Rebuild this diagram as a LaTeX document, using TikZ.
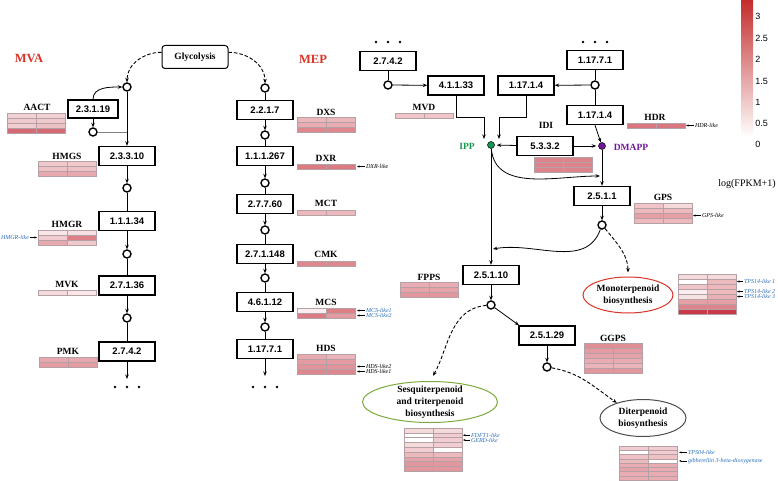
\documentclass[tikz,border=0pt]{standalone}
\usepackage{fontspec}
\setmainfont{Liberation Serif}
\setsansfont{Liberation Sans}
\usepackage{tikz}
\usetikzlibrary{arrows.meta,shapes.geometric}
\definecolor{hot}{RGB}{198,48,62}
\definecolor{barred}{RGB}{196,44,44}
\definecolor{ippgreen}{RGB}{22,150,82}
\definecolor{dmapurple}{RGB}{112,22,150}
\definecolor{tagblue}{RGB}{40,110,190}
\definecolor{pwred}{RGB}{218,52,40}
\definecolor{sesqgreen}{RGB}{124,170,60}
\definecolor{cellgray}{RGB}{180,160,165}

\tikzset{
  ec/.style={draw, line width=1.4pt, fill=white, minimum width=56pt, minimum height=19pt,
    inner sep=0pt, font=\sffamily\bfseries\fontsize{9.5}{11}\selectfont},
  met/.style={circle, draw, line width=1.4pt, fill=white, minimum size=8pt, inner sep=0pt},
  gene/.style={font=\bfseries\fontsize{9.5}{11}\selectfont, inner sep=0pt},
  title/.style={font=\bfseries\fontsize{12.5}{14}\selectfont, text=pwred},
  pw/.style={ellipse, draw, line width=1pt, inner sep=0pt},
  pwtext/.style={font=\bfseries\fontsize{9.5}{12}\selectfont, align=center},
  tag/.style={font=\itshape\fontsize{6}{6}\selectfont, anchor=west, inner sep=0pt, outer sep=1pt},
  tagarr/.style={{Stealth[length=2.5pt,width=2pt]}-, line width=0.4pt},
  flowd/.style={->, dash pattern=on 3.5pt off 2pt, line width=0.9pt},
  cellline/.style={draw=cellgray, line width=0.5pt},
}

% heat map: [row height]{x left}{y top}{col1/col2 shades}
\newcommand{\heatmap}[4][5]{%
  \foreach \ca/\cb [count=\rw] in {#4}{
    \filldraw[cellline, fill=hot!\ca!white] (#2,{#3-\rw*#1}) rectangle ++(29,#1);
    \filldraw[cellline, fill=hot!\cb!white] ({#2+29},{#3-\rw*#1}) rectangle ++(29,#1);
  }}

\begin{document}
\begin{tikzpicture}[x=1pt, y=1pt, line width=0.8pt, >={Stealth[length=4.5pt,width=3.5pt]}]
  \useasboundingbox (0,0) rectangle (778,480);

  \node[title] (mvalab) at (29,422) {MVA};
  \node[title] (meplab) at (313,421) {MEP};
  \node[draw, rounded corners=3pt, line width=1pt, minimum width=66pt, minimum height=23pt,
    font=\bfseries\fontsize{9.5}{11}\selectfont] (glyc) at (195,423) {Glycolysis};

  % MVA pathway
  \node[met] (m1) at (127,393) {};
  \node[ec, minimum width=50pt, minimum height=18pt] (aact) at (93,371) {2.3.1.19};
  \node[met] (m2) at (93,348) {};
  \node[ec] (hmgs) at (127,324) {2.3.3.10};
  \node[met] (m3) at (127,292) {};
  \node[ec] (hmgr) at (127,259) {1.1.1.34};
  \node[met] (m4) at (127,226) {};
  \node[ec] (mvk) at (127,194.5) {2.7.1.36};
  \node[met] (m5) at (127,162) {};
  \node[ec] (pmk) at (127,128.5) {2.7.4.2};
  \coordinate (mvaend) at (127,101);
  \foreach \x in {115,127,139}
    \fill (\x,93) circle (1.4pt);

  \draw[flowd] (glyc.172) to[out=180,in=90] (m1.north);
  \draw[->] (aact.north) to[out=90,in=180] (m1.west);
  \draw[->] (aact) -- (m2);
  \draw[gray] (m2.east) -- (m2 -| m1);
  \draw[->] (m1) -- (hmgs);
  \draw[->] (hmgs) -- (m3);
  \draw (m3) -- (hmgr);
  \draw[->] (hmgr) -- (m4);
  \draw (m4) -- (mvk);
  \draw[->] (mvk) -- (m5);
  \draw (m5) -- (pmk);
  \draw[->] (pmk) -- (mvaend);

  \node[gene] (aactlab) at (37,373) {AACT};
  \heatmap{7}{367}{22/22, 26/26, 24/30, 72/72}
  \node[gene] (hmgslab) at (67,324) {HMGS};
  \heatmap{38}{319}{26/26, 30/30, 42/42}
  \node[gene] (hmgrlab) at (67,256) {HMGR};
  \heatmap{38}{250}{12/15, 24/62, 42/26}
  \draw[tagarr] (37,242.5) -- ++(-7,0) node[tag, anchor=east, text=tagblue] {HMGR-like};
  \node[gene] (mvklab) at (67,196) {MVK};
  \heatmap{38}{190}{18/12}
  \node[gene] (pmklab) at (68,129) {PMK};
  \heatmap{39}{123}{42/42, 48/48}

  % MEP pathway
  \node[met] (p1) at (265,392) {};
  \node[ec] (dxs) at (265,370) {2.2.1.7};
  \node[met] (p2) at (265,345) {};
  \node[ec] (dxr) at (265,324) {1.1.1.267};
  \node[met] (p3) at (265,297) {};
  \node[ec] (mct) at (265,276) {2.7.7.60};
  \node[met] (p4) at (265,250) {};
  \node[ec] (cmk) at (265,226) {2.7.1.148};
  \node[met] (p5) at (265,202) {};
  \node[ec] (mcs) at (265,178) {4.6.1.12};
  \node[met] (p6) at (265,153) {};
  \node[ec] (hds) at (265,131) {1.17.7.1};
  \coordinate (mepend) at (265,104);
  \foreach \x in {253,265,277}
    \fill (\x,93) circle (1.4pt);

  \draw[flowd] (glyc.8) to[out=0,in=90] (p1.north);
  \draw (p1) -- (dxs);
  \draw[->] (dxs) -- (p2);
  \draw (p2) -- (dxr);
  \draw[->] (dxr) -- (p3);
  \draw (p3) -- (mct);
  \draw[->] (mct) -- (p4);
  \draw (p4) -- (cmk);
  \draw[->] (cmk) -- (p5);
  \draw (p5) -- (mcs);
  \draw[->] (mcs) -- (p6);
  \draw (p6) -- (hds);
  \draw[->] (hds) -- (mepend);

  \node[gene] (dxslab) at (326,368) {DXS};
  \heatmap{297}{363}{35/35, 40/40, 58/58}
  \node[gene] (dxrlab) at (326,322) {DXR};
  \heatmap{297}{316}{64/64}
  \draw[tagarr] (357,313.5) -- ++(8,0) node[tag] {DXR-like};
  \node[gene] (mctlab) at (326,277) {MCT};
  \heatmap{297}{270}{34/34}
  \node[gene] (cmklab) at (326,226) {CMK};
  \heatmap{297}{219}{58/58}
  \node[gene] (mcslab) at (326,178) {MCS};
  \heatmap{297}{172}{8/62, 64/48}
  \draw[tagarr] (357,169.5) -- ++(8,0) node[tag, text=tagblue] {MCS-like1};
  \draw[tagarr] (357,164.5) -- ++(8,0) node[tag, text=tagblue] {MCS-like2};
  \node[gene] (hdslab) at (326,132) {HDS};
  \heatmap{297}{126}{42/36, 48/48, 52/52, 58/58}
  \draw[tagarr] (357,113.5) -- ++(8,0) node[tag] {HDS-like2};
  \draw[tagarr] (357,108.5) -- ++(8,0) node[tag] {HDS-like1};

  % IPP / DMAPP and downstream
  \foreach \x in {376,388,400}
    \fill (\x,438) circle (1.4pt);
  \node[ec] (pmk2) at (388,419) {2.7.4.2};
  \node[met] (q1) at (388,395) {};
  \node[ec] (mvd) at (456,394.5) {4.1.1.33};
  \node[gene] (mvdlab) at (424,373) {MVD};
  \heatmap{395}{367}{28/28}
  \node[ec] (hdrl) at (526,394.5) {1.17.1.4};
  \foreach \x in {583,595,607}
    \fill (\x,438) circle (1.4pt);
  \node[ec] (hds2) at (595,420) {1.17.7.1};
  \node[met] (q2) at (595,395) {};
  \node[ec] (hdrr) at (595,365) {1.17.1.4};
  \node[gene] (hdrlab) at (655,363) {HDR};
  \heatmap{627}{357}{66/66}
  \draw[tagarr] (686,354.5) -- ++(8,0) node[tag] {HDR-like};

  \node[circle, draw, fill=ippgreen, minimum size=7pt, inner sep=0pt, line width=0.5pt] (ipp) at (491,335) {};
  \node[gene, text=ippgreen] (ipplab) at (467,334) {IPP};
  \node[circle, draw, fill=dmapurple, minimum size=7pt, inner sep=0pt, line width=0.5pt] (dmapp) at (602,334) {};
  \node[gene, text=dmapurple] (dmapplab) at (631,333) {DMAPP};
  \node[gene] (idilab) at (546,355) {IDI};
  \node[ec] (idi) at (545,334) {5.3.3.2};
  \heatmap{534}{323}{60/60, 60/60, 60/60}

  \draw (pmk2) -- (q1);
  \draw[->] (q1) -- (mvd);
  \draw[->] (mvd.south) -- ++(0,-22) -| ([shift={(-7pt,6pt)}]ipp.center);
  \draw[->] (hdrl.south) -- ++(0,-22) -| ([shift={(8pt,6pt)}]ipp.center);
  \draw (hds2) -- (q2);
  \draw[->] (q2) -- (hdrl);
  \draw (q2) -- (hdrr);
  \draw[->] (hdrr.south) -- (dmapp);
  \draw[->, shorten >=2pt] (idi) -- (ipp);
  \draw[->, shorten >=2pt] (idi) -- (dmapp);

  \node[ec] (gps) at (602,284) {2.5.1.1};
  \node[gene] (gpslab) at (663,283) {GPS};
  \heatmap{634}{277}{28/18, 34/34, 46/46, 34/34}
  \draw[tagarr] (693,264.5) -- ++(8,0) node[tag] {GPS-like};
  \node[met] (q3) at (602,255) {};
  \coordinate (j1) at (600,304);
  \coordinate (j2) at (493,231);
  \draw[->] (ipp) to[out=-85,in=180] (j1);
  \draw[->] (dmapp) -- (gps);
  \draw[->] (gps) -- (q3);
  \draw[->] (q3) to[out=-110,in=10] (j2);

  \node[pw, draw=pwred, minimum width=90pt, minimum height=36pt] (mono) at (628,185) {};
  \node[pwtext] (monotext) at (mono) {Monoterpenoid\\biosynthesis};
  \heatmap{678}{206}{18/18, 0/34, 28/34, 8/34, 14/38, 46/46, 60/60, 95/95}
  \draw[tagarr] (737,198.5) -- ++(6,0) node[tag, text=tagblue] {TPS14-like 1};
  \draw[tagarr] (737,188.5) -- ++(6,0) node[tag, text=tagblue] {TPS14-like 2};
  \draw[tagarr] (737,183.5) -- ++(6,0) node[tag, text=tagblue] {TPS14-like 3};
  \draw[flowd, shorten >=4pt] (q3) to[out=-50,in=90] (mono.north);

  \node[ec] (fpps) at (491,205) {2.5.1.10};
  \node[gene] (fppslab) at (429,203) {FPPS};
  \heatmap{400}{198}{40/40, 44/44, 50/50}
  \node[met] (q4) at (491,175) {};
  \node[ec] (ggps) at (547,144.5) {2.5.1.29};
  \node[gene] (ggpslab) at (613,142) {GGPS};
  \heatmap{584}{137}{54/54, 48/48, 45/45, 40/40, 36/36, 50/50}
  \node[met] (q5) at (547,113) {};

  \draw[->] (ipp) -- (fpps);
  \draw[->] (fpps) -- (q4);
  \draw[->] (q4) -- (ggps.160);
  \draw[->] (ggps) -- (q5);

  \node[pw, draw=sesqgreen, minimum width=135pt, minimum height=41pt] (sesq) at (430,78) {};
  \node[pwtext] (sesqtext) at (sesq) {Sesquiterpenoid\\and triterpenoid\\biosynthesis};
  \heatmap[4.8]{404}{52}{18/18, 0/24, 0/24, 18/24, 24/0, 34/34, 45/45, 50/50, 50/50}
  \draw[tagarr] (463,44.8) -- ++(7,0) node[tag, text=tagblue] {FDFT1-like};
  \draw[tagarr] (463,40) -- ++(7,0) node[tag, text=tagblue] {GERD-like};
  \draw[flowd, shorten >=6pt] (q4) to[out=185,in=60] (sesq.north);

  \node[pw, draw=black!70, minimum width=86pt, minimum height=37pt] (diter) at (643,62) {};
  \node[pwtext] (ditertext) at (diter) {Diterpenoid\\biosynthesis};
  \heatmap[4.25]{619}{34}{24/24, 0/24, 30/30, 34/0, 40/40, 45/40, 40/40, 40/40}
  \draw[tagarr] (679,27.6) -- ++(8,0) node[tag, text=tagblue] {TPS04-like};
  \draw[tagarr] (679,19.1) -- ++(8,0) node[tag, text=tagblue] {gibberellin 3-beta-dioxygenase};
  \draw[flowd] (q5) to[out=-10,in=145] (diter.150);

  % colour key
  \shade[top color=barred, bottom color=white] (741,343) rectangle (753,480);
  \foreach \v/\yy in {3/464, 2.5/442, 2/421, 1.5/399, 1/378, 0.5/357, 0/336}
    \node[anchor=west, inner sep=0pt, font=\sffamily\fontsize{9}{10}\selectfont] at (755,\yy) {\v};
  \node[font=\fontsize{10}{12}\selectfont] (loglab) at (747,296) {log(FPKM+1)};
\end{tikzpicture}
\end{document}
